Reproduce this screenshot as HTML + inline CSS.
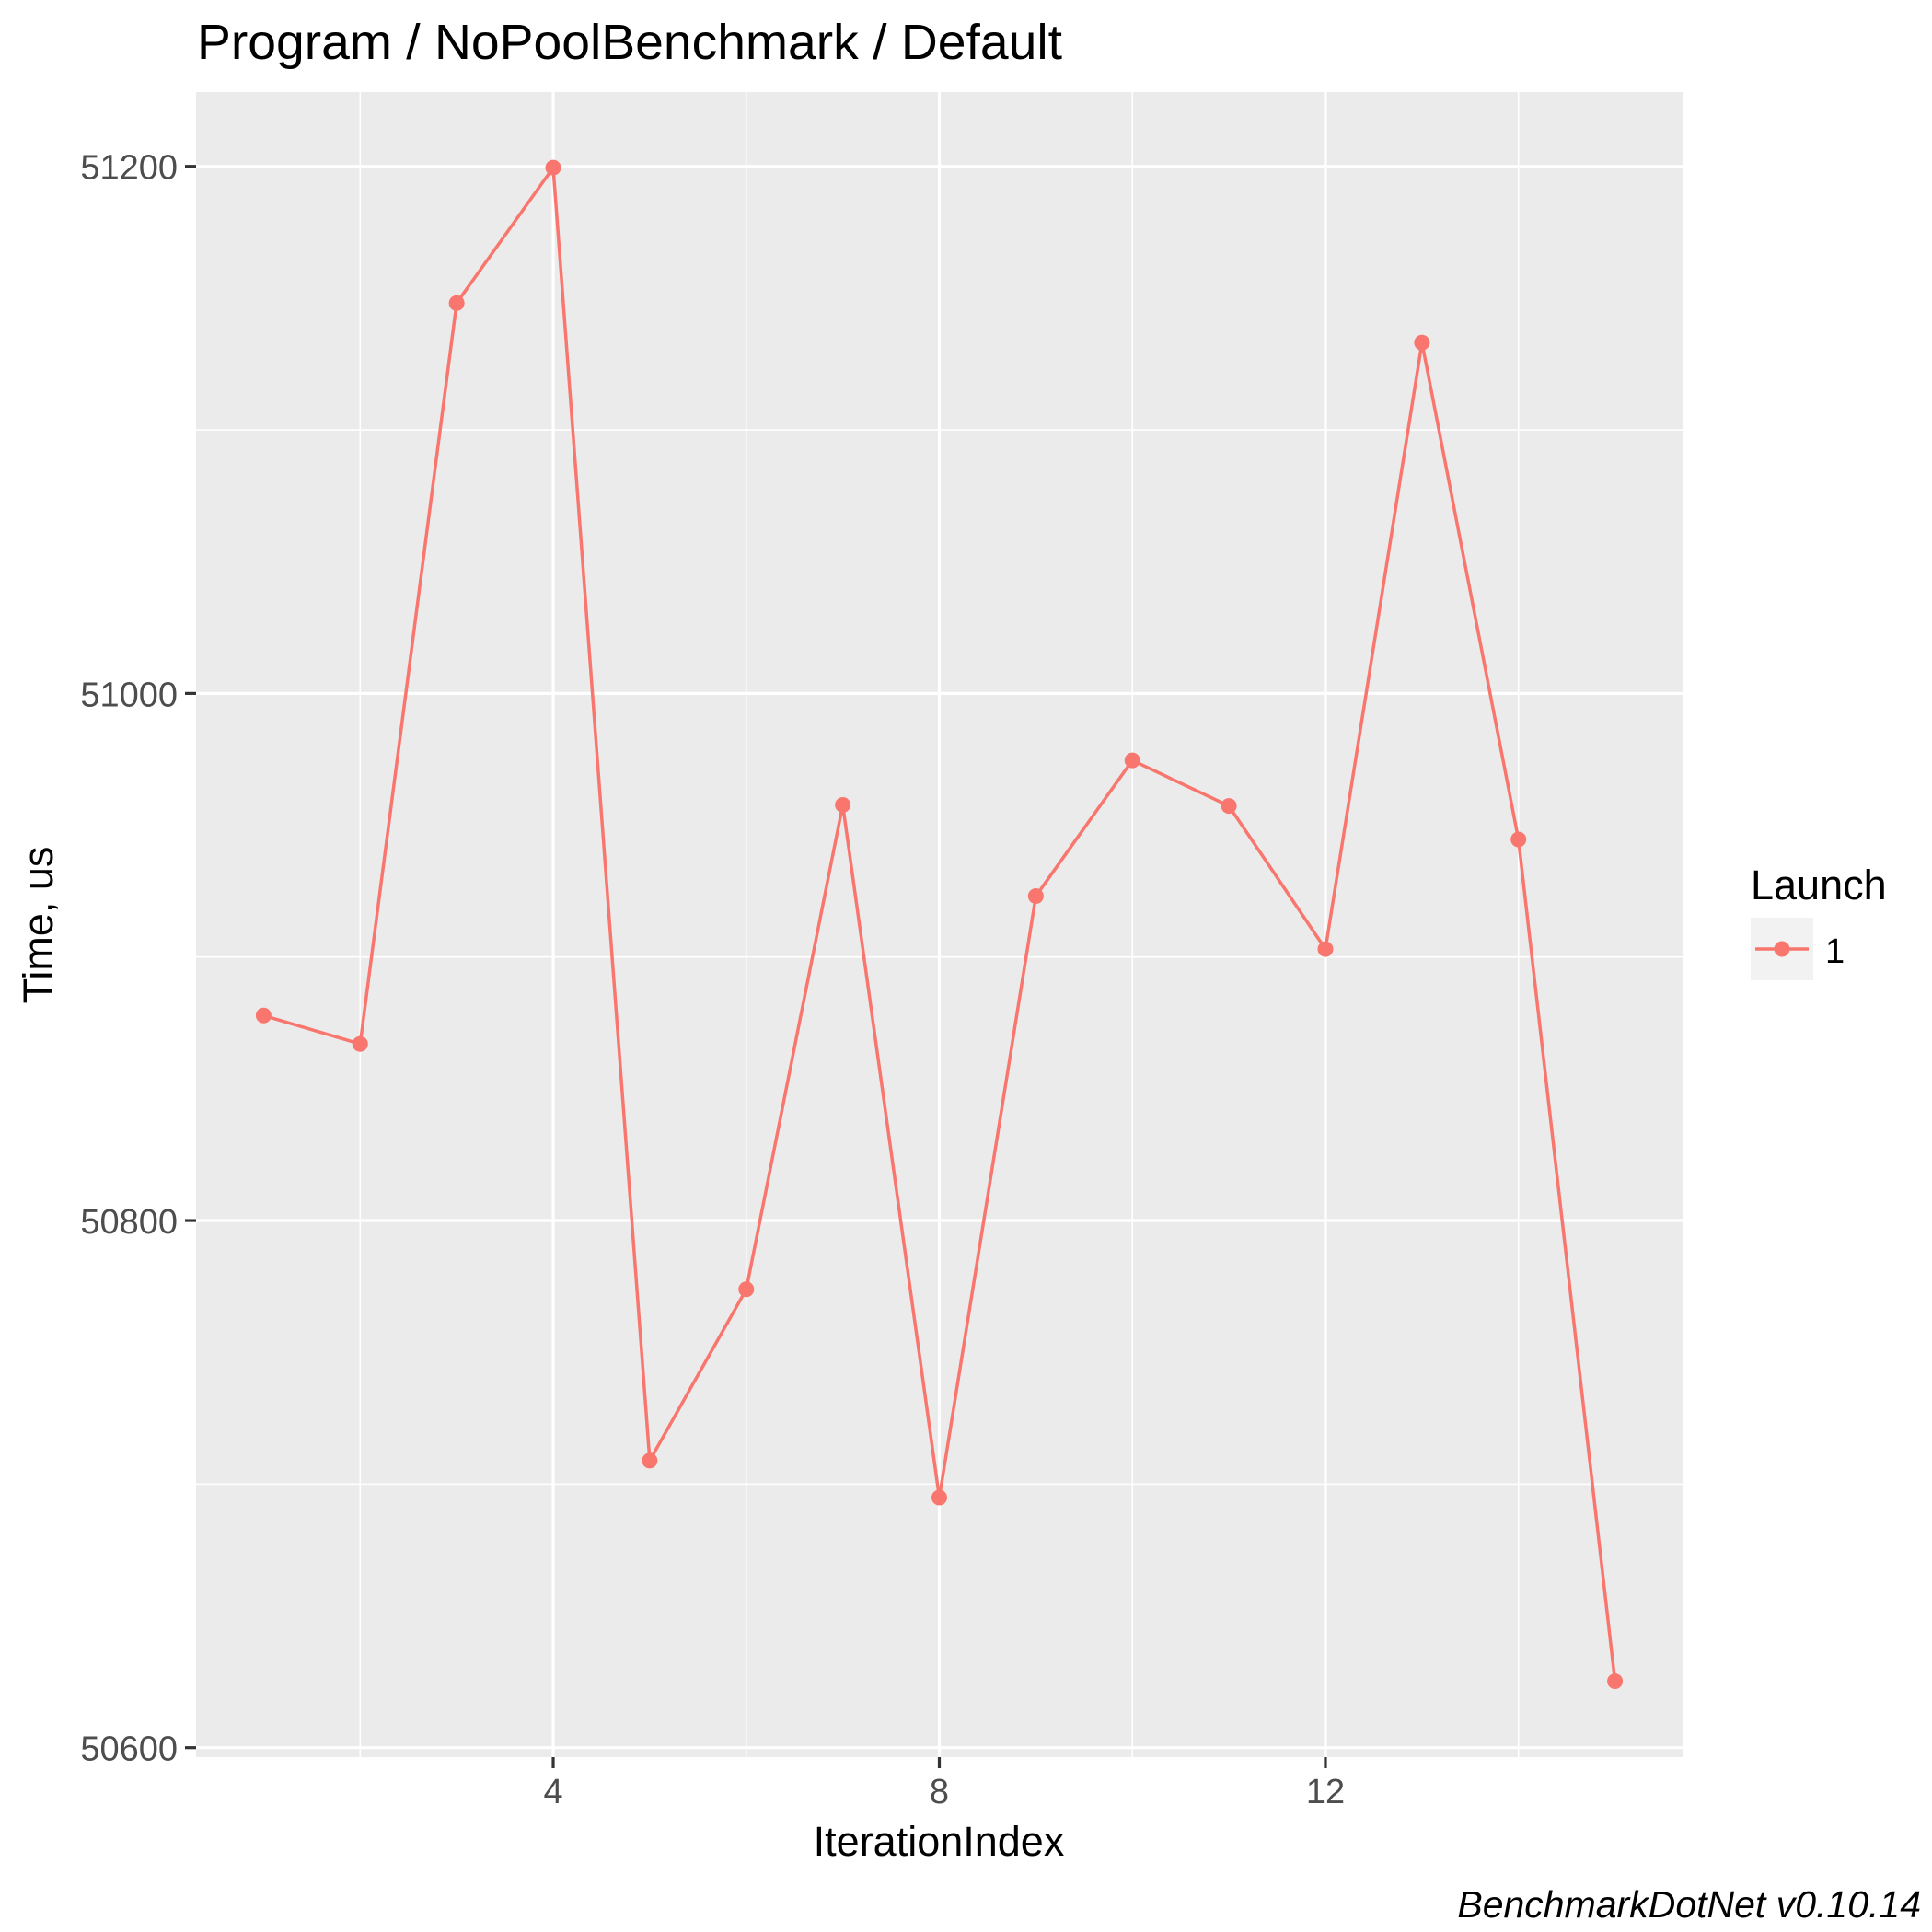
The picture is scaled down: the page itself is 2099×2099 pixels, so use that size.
<!DOCTYPE html>
<html><head><meta charset="utf-8"><style>
html,body{margin:0;padding:0;background:#fff;}
svg{display:block;font-family:"Liberation Sans",Arial,sans-serif;}
</style></head><body>
<svg id="chart" width="2099" height="2099" viewBox="0 0 2099 2099" xmlns="http://www.w3.org/2000/svg">
<rect width="2099" height="2099" fill="#fff"/>
<text x="214" y="64" font-size="54" fill="#000" textLength="940" lengthAdjust="spacingAndGlyphs">Program / NoPoolBenchmark / Default</text>
<rect x="213" y="100" width="1615" height="1809" fill="#EBEBEB"/>
<g id="grid"></g>
<g id="axes"></g>
<g id="series"></g>
<text x="1020" y="2016" font-size="45" text-anchor="middle" fill="#000">IterationIndex</text>
<text transform="translate(57,1005) rotate(-90)" font-size="45" text-anchor="middle" fill="#000">Time, us</text>
<g>
<text x="1902" y="977" font-size="45" fill="#000">Launch</text>
<rect x="1902" y="997" width="68" height="68" fill="#F2F2F2"/>
<line x1="1907" y1="1031" x2="1965" y2="1031" stroke="#F8766D" stroke-width="3.5"/>
<circle cx="1936" cy="1031" r="8.5" fill="#F8766D"/>
<text x="1983" y="1046" font-size="38" fill="#000">1</text>
</g>
<text x="2087" y="2083" font-size="41" font-style="italic" text-anchor="end" fill="#000">BenchmarkDotNet v0.10.14</text>
</svg>
<script>
const iterations = [1,2,3,4,5,6,7,8,9,10,11,12,13,14,15];
const times = [50877.8,50867.0,51148.1,51199.5,50708.9,50773.9,50957.7,50694.9,50923.1,50974.6,50957.3,50903.0,51133.1,50944.6,50625.2];
const xTicks = [4,8,12];
const xMinor = [2,6,10,14];
const yTicks = [50600,50800,51000,51200];
const yMinor = [50700,50900,51100];

const NS = "http://www.w3.org/2000/svg";
const PL = 213, PR = 1828, PT = 100, PB = 1909;
const xMin = 0.3, xMax = 15.7;
const yTopVal = 51200, yTopPx = 180.7, yBotVal = 50600, yBotPx = 1898.7;
function sx(v){ return PL + (v - xMin) / (xMax - xMin) * (PR - PL); }
function sy(v){ return yBotPx + (v - yBotVal) / (yTopVal - yBotVal) * (yTopPx - yBotPx); }
function mk(tag, attrs, parent){
  const e = document.createElementNS(NS, tag);
  for (const k in attrs) e.setAttribute(k, attrs[k]);
  parent.appendChild(e);
  return e;
}
const grid = document.getElementById('grid');
const axes = document.getElementById('axes');
const series = document.getElementById('series');

yMinor.forEach(v => {
  const l = mk('line', {x1:PL, x2:PR, y1:sy(v), y2:sy(v), stroke:'#fff', 'stroke-width':1.6}, grid);
  
  
});
xMinor.forEach(v => {
  const l = mk('line', {x1:sx(v), x2:sx(v), y1:PT, y2:PB, stroke:'#fff', 'stroke-width':1.6}, grid);
  
  
});
yTicks.forEach(v => {
  const l = mk('line', {x1:PL, x2:PR, y1:sy(v), y2:sy(v), stroke:'#fff', 'stroke-width':3.2}, grid);
  
  
  const t = mk('line', {x1:PL-12, x2:PL, y1:sy(v), y2:sy(v), stroke:'#333', 'stroke-width':3.2}, axes);
  
  
  const tx = mk('text', {x:PL-20, y:sy(v)+14, 'font-size':38, fill:'#4D4D4D', 'text-anchor':'end'}, axes);
  tx.textContent = v;
  
  
});
xTicks.forEach(v => {
  const l = mk('line', {x1:sx(v), x2:sx(v), y1:PT, y2:PB, stroke:'#fff', 'stroke-width':3.2}, grid);
  
  
  const t = mk('line', {x1:sx(v), x2:sx(v), y1:PB, y2:PB+12, stroke:'#333', 'stroke-width':3.2}, axes);
  
  
  const tx = mk('text', {x:sx(v), y:1959, 'font-size':38, fill:'#4D4D4D', 'text-anchor':'middle'}, axes);
  tx.textContent = v;
  
  
});
const pts = iterations.map((x,i) => sx(x).toFixed(1) + ',' + sy(times[i]).toFixed(1)).join(' ');
const line = mk('polyline', {points:pts, fill:'none', stroke:'#F8766D', 'stroke-width':3.5, 'stroke-linejoin':'round'}, series);


iterations.forEach((x,i) => {
  const c = mk('circle', {cx:sx(x), cy:sy(times[i]), r:8.5, fill:'#F8766D'}, series);
  
  
});
</script>
</body></html>
